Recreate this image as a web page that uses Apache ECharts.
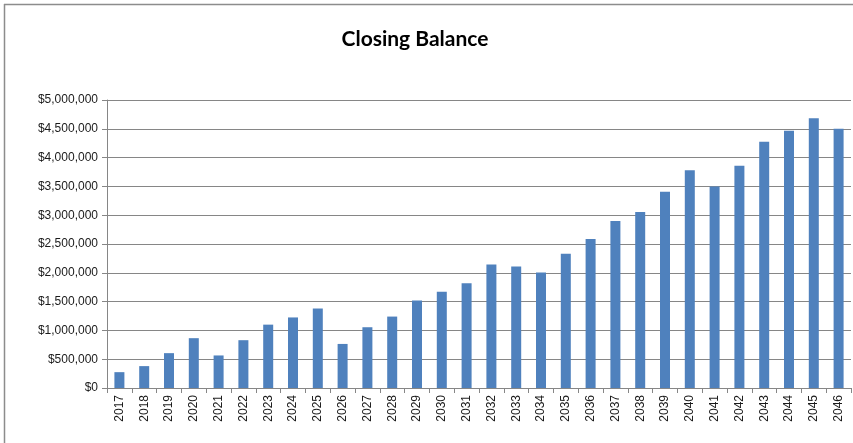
<!DOCTYPE html>
<html>
<head>
<meta charset="utf-8">
<script src="https://cdn.jsdelivr.net/npm/echarts@6/dist/echarts.min.js"></script>
<style>
  html, body { margin: 0; padding: 0; background: #fff; }
  #chart { width: 853px; height: 443px; }
</style>
</head>
<body>
<div id="chart"></div>
<script>
// Year-end closing balance per year
var years = ['2017','2018','2019','2020','2021','2022','2023','2024','2025','2026',
             '2027','2028','2029','2030','2031','2032','2033','2034','2035','2036',
             '2037','2038','2039','2040','2041','2042','2043','2044','2045','2046'];
var closingBalance = [275000, 380000, 605000, 865000, 565000, 830000, 1100000, 1225000, 1380000, 765000,
                      1055000, 1240000, 1520000, 1670000, 1820000, 2145000, 2110000, 2005000, 2330000, 2585000,
                      2900000, 3055000, 3405000, 3780000, 3500000, 3860000, 4275000, 4465000, 4685000, 4500000];
var yMin = 0, yMax = 5000000, yStep = 500000;

function money(v) {
  return '$' + Math.round(v).toString().replace(/\B(?=(\d{3})+(?!\d))/g, ',');
}

var chart = echarts.init(document.getElementById('chart'), null, { renderer: 'canvas' });
chart.setOption({
  animation: false,
  backgroundColor: '#ffffff',
  title: {
    text: 'Closing Balance',
    left: 410, top: 24, textAlign: 'center',
    textStyle: { fontFamily: 'Lato', fontWeight: 'bold', fontSize: 21, color: '#000' }
  },
  graphic: [
    { type: 'line', shape: { x1: 4, y1: 4.5, x2: 853, y2: 4.5 }, style: { stroke: '#8c8c8c', lineWidth: 1.5 } },
    { type: 'line', shape: { x1: 4.5, y1: 4, x2: 4.5, y2: 443 }, style: { stroke: '#8c8c8c', lineWidth: 1.5 } }
  ],
  grid: { left: 107, right: 2, top: 100, bottom: 55, containLabel: false },
  xAxis: {
    type: 'category',
    data: years,
    axisLine: { show: true, lineStyle: { color: '#868686', width: 1 } },
    axisTick: { show: true, alignWithLabel: false, length: 5, lineStyle: { color: '#868686' } },
    axisLabel: {
      rotate: 90, interval: 0, margin: 7,
      fontFamily: 'Liberation Sans', fontSize: 12, color: '#1a1a1a'
    }
  },
  yAxis: {
    type: 'value',
    min: yMin, max: yMax, interval: yStep,
    axisLine: { show: true, lineStyle: { color: '#868686', width: 1 } },
    axisTick: { show: true, length: 5, lineStyle: { color: '#868686' } },
    splitLine: { show: true, lineStyle: { color: '#868686', width: 1 } },
    axisLabel: {
      margin: 9, fontFamily: 'Liberation Sans', fontSize: 12, color: '#1a1a1a',
      formatter: money
    }
  },
  series: [{
    type: 'bar',
    data: closingBalance,
    barWidth: 10,
    itemStyle: { color: '#4f81bd' }
  }]
});
</script>
</body>
</html>
